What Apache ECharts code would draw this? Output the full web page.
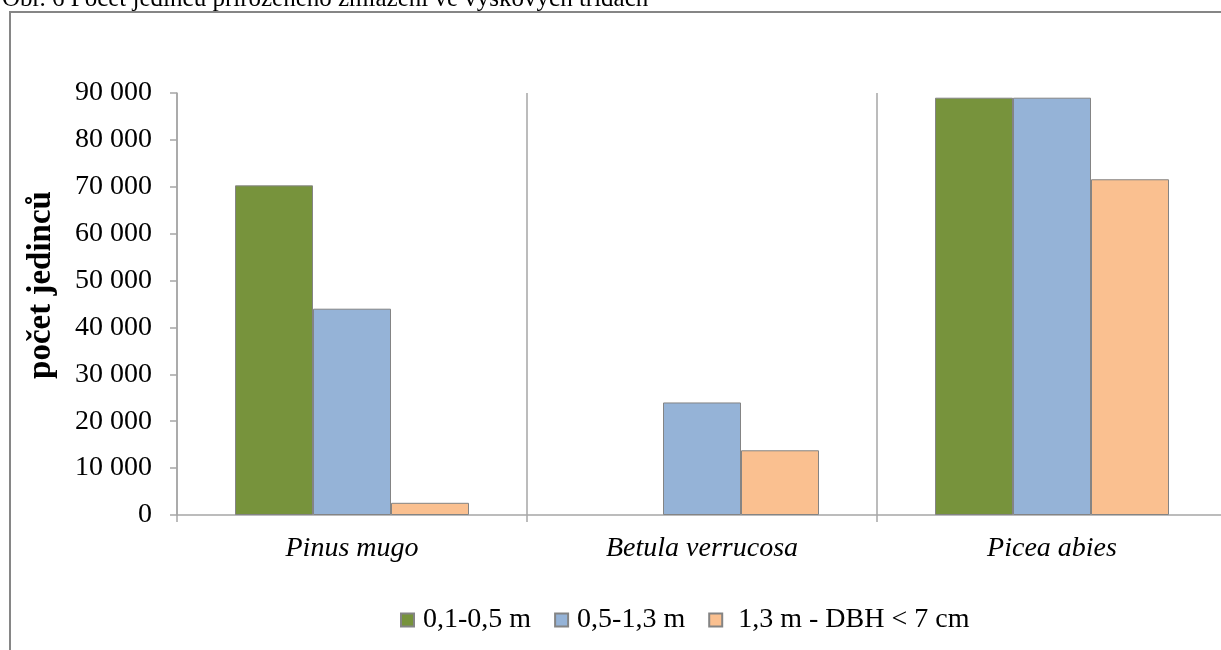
<!DOCTYPE html>
<html>
<head>
<meta charset="utf-8">
<script src="https://cdn.jsdelivr.net/npm/echarts@6/dist/echarts.min.js"></script>
<style>
html,body{margin:0;padding:0;background:#fff;overflow:hidden;width:1221px;height:650px;}
#c{width:1240px;height:650px;}
</style>
</head>
<body>
<div id="c"></div>
<script>
const categories = ['Pinus mugo', 'Betula verrucosa', 'Picea abies'];
const seriesNames = ['0,1-0,5 m', '0,5-1,3 m', '1,3 m - DBH < 7 cm'];
const s1 = [70300, 0, 89000];
const s2 = [44000, 24000, 89000];
const s3 = [2600, 13800, 71600];
const colors = ['#77933C', '#95B3D7', '#FAC090'];
const yTicks = { min: 0, max: 90000, interval: 10000 };
const titleText = 'Obr. 6 Počet jedinců přirozeného zmlazení ve výškových třídách';
const yName = 'počet jedinců';

const font = 'Liberation Serif, Times New Roman, serif';
const chart = echarts.init(document.getElementById('c'), null, {renderer: 'canvas'});
const vals = [s1, s2, s3];
chart.setOption({
  backgroundColor: '#fff',
  animation: false,
  graphic: [
    { type: 'rect', shape: { x: 10, y: 12, width: 1300, height: 700 },
      style: { fill: 'none', stroke: '#868686', lineWidth: 2 }, z: -1 },
    { type: 'text', x: 2, y: -13,
      style: { text: titleText, font: '25px ' + font, fill: '#000', textVerticalAlign: 'top' } },
    { type: 'text', x: 41, y: 285, rotation: Math.PI / 2,
      style: { text: yName, font: 'bold 33px ' + font, fill: '#000', textAlign: 'center', textVerticalAlign: 'middle' } }
  ],
  grid: { left: 177, right: 13, top: 93, bottom: 135, containLabel: false },
  legend: {
    left: 395, top: 601,
    itemWidth: 13, itemHeight: 13, itemGap: 23, icon: 'rect',
    textStyle: { fontFamily: font, fontSize: 28, color: '#000', padding: [0, 0, 0, 4] },
    formatter: function (n) { return n === seriesNames[2] ? ' ' + n : n; },
    data: seriesNames
  },
  xAxis: {
    type: 'category', data: categories, boundaryGap: true,
    axisLine: { lineStyle: { color: '#a6a6a6', width: 1.5 } },
    axisTick: { show: true, length: 7, interval: 0, lineStyle: { color: '#a6a6a6', width: 1.5 } },
    splitLine: { show: true, interval: 0, lineStyle: { color: '#a6a6a6', width: 1.5 } },
    axisLabel: { fontFamily: font, fontStyle: 'italic', fontSize: 28, color: '#000', margin: 20 }
  },
  yAxis: {
    type: 'value', min: yTicks.min, max: yTicks.max, interval: yTicks.interval,
    axisLine: { show: true, lineStyle: { color: '#a6a6a6', width: 1.5 } },
    axisTick: { show: true, length: 7, lineStyle: { color: '#a6a6a6', width: 1.5 } },
    splitLine: { show: false },
    axisLabel: {
      fontFamily: font, fontSize: 28, color: '#000', margin: 25,
      formatter: function (v) { return String(v).replace(/\B(?=(\d{3})+(?!\d))/g, ' '); }
    }
  },
  series: seriesNames.map(function (n, i) {
    return {
      name: n, type: 'bar', barWidth: 78, barGap: '0%',
      data: vals[i].map(function (v) { return v === 0 ? { value: v, itemStyle: { borderWidth: 0 } } : v; }),
      itemStyle: { color: colors[i], borderColor: '#848484', borderWidth: 1 }
    };
  })
});
</script>
</body>
</html>
